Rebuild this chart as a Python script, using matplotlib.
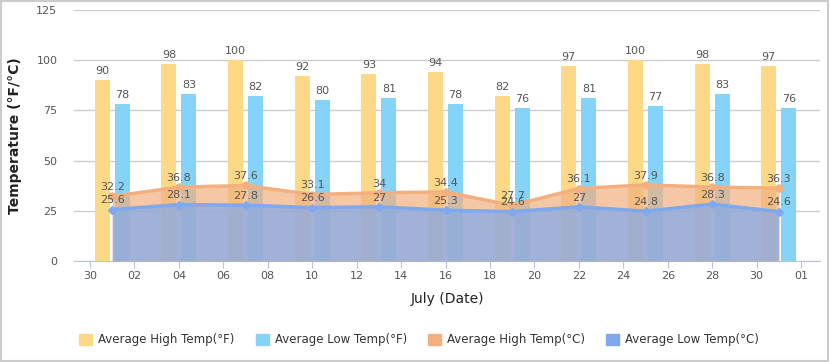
import matplotlib
matplotlib.use("Agg")
import matplotlib.pyplot as plt
from matplotlib.patches import Rectangle, Patch
import numpy as np

plt.rcParams['font.family'] = ['DejaVu Sans']

# Day index: 0 = June 30, 32 = Aug 1
days = [1, 4, 7, 10, 13, 16, 19, 22, 25, 28, 31]
high_f = [90, 98, 100, 92, 93, 94, 82, 97, 100, 98, 97]
low_f = [78, 83, 82, 80, 81, 78, 76, 81, 77, 83, 76]
high_c = [32.2, 36.8, 37.6, 33.1, 34, 34.4, 27.7, 36.1, 37.9, 36.8, 36.3]
low_c = [25.6, 28.1, 27.8, 26.6, 27, 25.3, 24.6, 27, 24.8, 28.3, 24.6]
tick_days = list(range(0, 33, 2))
tick_labels = ["30", "02", "04", "06", "08", "10", "12", "14", "16", "18", "20",
               "22", "24", "26", "28", "30", "01"]
series_names = ["Average High Temp(°F)", "Average Low Temp(°F)",
                "Average High Temp(°C)", "Average Low Temp(°C)"]

c_yellow = "#fdd987"
c_lblue = "#85d3f8"
c_orange = "#f3b07e"
c_blue = "#7fa9ee"
txt = "#555555"

fig = plt.figure(figsize=(8.3, 3.62), dpi=100)
ax = fig.add_axes([74/830, 1-261/362, (820-74)/830, 251/362])

x = np.array(days, dtype=float)
w = 0.68
off = 0.45
ax.bar(x - off, high_f, width=w, color=c_yellow, zorder=2)
ax.bar(x + off, low_f, width=w, color=c_lblue, zorder=2)
for xi, v in zip(x, high_f):
    ax.annotate(str(v), (xi - off, v), xytext=(0, 3), textcoords="offset points",
                ha="center", va="bottom", fontsize=8, color=txt, zorder=6)
for xi, v in zip(x, low_f):
    ax.annotate(str(v), (xi + off, v), xytext=(0, 3), textcoords="offset points",
                ha="center", va="bottom", fontsize=8, color=txt, zorder=6)

ax.fill_between(x, high_c, 0, color=c_orange, alpha=0.7, lw=0, zorder=3)
ax.plot(x, high_c, color=c_orange, lw=2.5, marker="o", ms=5, zorder=4)
ax.fill_between(x, low_c, 0, color=c_blue, alpha=0.7, lw=0, zorder=4)
ax.plot(x, low_c, color=c_blue, lw=2.5, marker="D", ms=4, zorder=5)
for xi, v in zip(x, high_c):
    ax.annotate(f"{v:g}", (xi, v), xytext=(0, 3), textcoords="offset points",
                ha="center", va="bottom", fontsize=8, color=txt, zorder=6)
for xi, v in zip(x, low_c):
    ax.annotate(f"{v:g}", (xi, v), xytext=(0, 3), textcoords="offset points",
                ha="center", va="bottom", fontsize=8, color=txt, zorder=6)

ax.set_xlim((74-90)/22.22, (820-90)/22.22)
ax.set_ylim(0, 125)
ax.set_yticks([0, 25, 50, 75, 100, 125])
ax.set_xticks(tick_days)
ax.set_xticklabels(tick_labels)
ax.grid(axis="y", color="#cccccc", lw=1, zorder=0)
ax.set_axisbelow(True)
for s in ["top", "right", "left"]:
    ax.spines[s].set_visible(False)
ax.spines["bottom"].set_color("#b8c3d6")
ax.tick_params(axis="y", length=0, labelsize=8, labelcolor=txt, pad=12)
ax.tick_params(axis="x", length=5, color="#b8c3d6", labelsize=8, labelcolor=txt, pad=2)
ax.set_ylabel("Temperature (°F/°C)", fontsize=10, fontweight="bold", color="#222222", labelpad=10)
ax.set_xlabel("July (Date)", fontsize=10, color="#222222", labelpad=8)

handles = [Patch(color=c) for c in [c_yellow, c_lblue, c_orange, c_blue]]
fig.legend(handles, series_names, loc="center", bbox_to_anchor=(0.505, 1-340/362),
           ncol=4, frameon=False, fontsize=8.5, handlelength=1.1, handleheight=1.1,
           handletextpad=0.5, columnspacing=1.8, labelcolor="#333333")

fig.add_artist(Rectangle((0.001, 0.002), 0.997, 0.995, transform=fig.transFigure,
                         fill=False, ec="#cccccc", lw=1.5))

fig.savefig("out.png", dpi=100)
